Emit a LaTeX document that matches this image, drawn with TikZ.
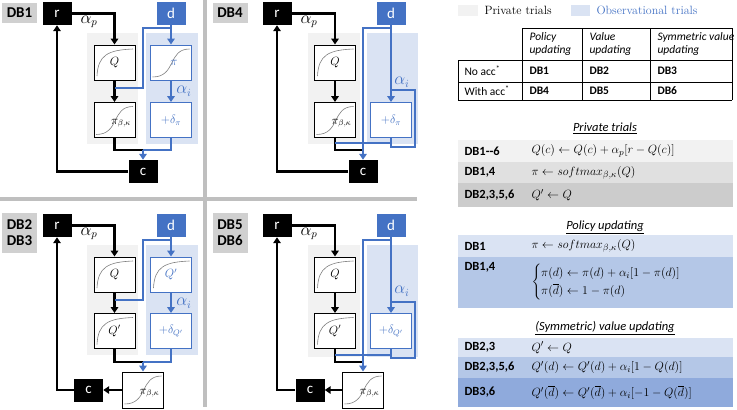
\documentclass[tikz,border=0pt]{standalone}
\usepackage{fontspec}
\usepackage{amsmath}
\newfontfamily\calibri{Carlito}
\usetikzlibrary{arrows.meta}
\definecolor{blueM}{HTML}{4472C4}
\definecolor{obsfill}{HTML}{DAE3F3}
\definecolor{privfill}{HTML}{F2F2F2}
\definecolor{labfill}{HTML}{D0D0D0}
\definecolor{divgray}{HTML}{BFBFBF}
\definecolor{rowA}{HTML}{F2F2F2}
\definecolor{rowB}{HTML}{E0E0E0}
\definecolor{rowC}{HTML}{CCCCCC}
\definecolor{rowD}{HTML}{DAE3F3}
\definecolor{rowE}{HTML}{B4C7E7}
\definecolor{rowF}{HTML}{8FAADC}

\begin{document}
\begin{tikzpicture}[x=1pt, y=-1pt,
                    >={Triangle[length=6pt,width=7.5pt]},
                    %thick,
                    lab/.style={fill=labfill, font=\calibri\bfseries\fontsize{15}{16}\selectfont,
                                minimum width=35pt, minimum height=20pt, inner sep=0pt, align=center},
                    term/.style={fill=black, text=white, font=\calibri\fontsize{15}{16}\selectfont,
                                 minimum width=29pt, minimum height=23pt, inner sep=0pt},
                    dterm/.style={term, fill=blueM},
                    curve/.style={gray, line width=0.6pt},
                    box/.style={draw, line width=0.9pt, fill=white, minimum width=41pt,
                                minimum height=35pt, inner sep=0pt, font=\fontsize{12}{13}\selectfont},
                    qbox/.style={box, path picture={\draw[curve]
                                 ([shift={(3,31)}]path picture bounding box.north west)
                                 .. controls ([shift={(4,10)}]path picture bounding box.north west)
                                 and ([shift={(14,5)}]path picture bounding box.north west)
                                 .. ([shift={(39,4)}]path picture bounding box.north west);}},
                    sbox/.style={box, path picture={\draw[curve]
                                 ([shift={(2,32)}]path picture bounding box.north west)
                                 .. controls ([shift={(26,32)}]path picture bounding box.north west)
                                 and ([shift={(17,4)}]path picture bounding box.north west)
                                 .. ([shift={(39,4)}]path picture bounding box.north west);}},
                    obs/.style={draw=blueM, text=blueM},
                    blk/.style={line width=2.2pt, black},
                    blu/.style={line width=2.2pt, blueM},
                    alpha/.style={font=\fontsize{16}{18}\selectfont},
                    divider/.style={line width=4pt, divgray},
                    cell/.style={anchor=west, align=left, font=\calibri\fontsize{11.5}{13}\selectfont},
                    rowlab/.style={anchor=west, font=\calibri\bfseries\fontsize{12.5}{14}\selectfont},
                    eq/.style={anchor=west, font=\fontsize{13}{15}\selectfont},
                    head/.style={font=\calibri\itshape\fontsize{12.5}{14}\selectfont}]

  \useasboundingbox (0,0) rectangle (737,410);

  % panel borders
  \draw[divider] (205,0) -- (205,407);
  \draw[divider] (0,198.5) -- (417,198.5);

  % DB1
  \fill[privfill] (87,33) rectangle (138,144);
  \fill[obsfill] (146,33) rectangle (198,144);
  \node[lab] (lab1) at (19.5,13) {DB1};
  \node[term] (r1) at (57,13.5) {r};
  \node[dterm] (d1) at (171,13.5) {d};
  \node[qbox] (Q1) at (114.5,62.5) {$Q$};
  \node[sbox,obs] (pi1) at (171,62.5) {\hspace*{6pt}$\pi$};
  \node[sbox] (pk1) at (114.5,120) {\hspace*{13pt}\raisebox{-4pt}[0pt][0pt]{$\pi_{\beta,\kappa}$}};
  \node[box,obs] (dp1) at (171,120) {$+\delta_\pi$};
  \node[term] (c1) at (143,171.5) {c};
  \coordinate (split1) at (171,28);
  \coordinate (bend1) at (143,88);
  \coordinate (mix1) at (114.5,88);
  \coordinate (join1) at (143,150);
  \draw[blk,->] (r1.east) -| (Q1.north);
  \draw[blk,->] (Q1.south) -- (pk1.north);
  \draw[blk] (pk1.south) |- (join1);
  \draw[blk,->] (c1.west) -| (r1.south);
  \draw[blu,->] (d1.south) -- (pi1.north);
  \draw[blu] (split1) -| (bend1) -- (mix1);
  \draw[blu,->] (pi1.south) -- (dp1.north);
  \draw[blu] (dp1.south) |- (join1);
  \draw[blu,->] (join1) -- (c1.north);
  \node[alpha] at (89,22) {$\alpha_p$};
  \node[alpha, blueM] at (184,91) {$\alpha_i$};

  % DB4
  \fill[privfill] (308,33) rectangle (360,144);
  \fill[obsfill] (367,33) rectangle (418,144);
  \node[lab] (lab4) at (230,13) {DB4};
  \node[term] (r4) at (277,13.5) {r};
  \node[dterm] (d4) at (391,13.5) {d};
  \node[qbox] (Q4) at (335,62.5) {$Q$};
  \node[sbox] (pk4) at (335,120) {\hspace*{13pt}\raisebox{-4pt}[0pt][0pt]{$\pi_{\beta,\kappa}$}};
  \node[box,obs] (dp4) at (391,120) {$+\delta_\pi$};
  \node[term] (c4) at (363,171.5) {c};
  \coordinate (split4) at (391,28);
  \coordinate (corner4) at (363,143);
  \coordinate (tap4) at (335,143);
  \coordinate (join4) at (363,150);
  \coordinate (loopa4) at (391,90);
  \coordinate (loopb4) at (415,147);
  \draw[blk,->] (r4.east) -| (Q4.north);
  \draw[blk,->] (Q4.south) -- (pk4.north);
  \draw[blk] (pk4.south) |- (join4);
  \draw[blk,->] (c4.west) -| (r4.south);
  \draw[blu,->] (d4.south) -- (dp4.north);
  \draw[blu] (split4) -| (join4);
  \draw[blu] (tap4) -- (corner4);
  \draw[blu] (dp4.south) |- (corner4);
  \draw[blu] (dp4.south) |- (loopb4) |- (loopa4);
  \draw[blu,->] (join4) -- (c4.north);
  \node[alpha] at (309,22) {$\alpha_p$};
  \node[alpha, blueM] at (402,82) {$\alpha_i$};

  % DB2 / DB3
  \fill[privfill] (87,245) rectangle (138,355);
  \fill[obsfill] (146,245) rectangle (198,355);
  \node[lab, minimum height=40pt] (lab2) at (19.5,233) {DB2\\DB3};
  \node[term] (r2) at (57,225.5) {r};
  \node[dterm] (d2) at (171,225.5) {d};
  \node[qbox] (Q2) at (114.5,274.5) {$Q$};
  \node[qbox,obs] (Qb2) at (171,274.5) {$Q'$};
  \node[qbox] (Qp2) at (114.5,331) {$Q'$};
  \node[box,obs] (dq2) at (171,331) {$+\delta_{Q'}$};
  \node[sbox, minimum height=36pt] (pk2) at (143,390) {\hspace*{13pt}\raisebox{-4pt}[0pt][0pt]{$\pi_{\beta,\kappa}$}};
  \node[term] (c2) at (88.5,390) {c};
  \coordinate (split2) at (171,240);
  \coordinate (bend2) at (143,300);
  \coordinate (mix2) at (114.5,300);
  \coordinate (join2) at (143,362);
  \draw[blk,->] (r2.east) -| (Q2.north);
  \draw[blk,->] (Q2.south) -- (Qp2.north);
  \draw[blk] (Qp2.south) |- (join2);
  \draw[blk,->] (pk2.west) -- (c2.east);
  \draw[blk,->] (c2.west) -| (r2.south);
  \draw[blu,->] (d2.south) -- (Qb2.north);
  \draw[blu] (split2) -| (bend2) -- (mix2);
  \draw[blu,->] (Qb2.south) -- (dq2.north);
  \draw[blu] (dq2.south) |- (join2);
  \draw[blu,->] (join2) -- (pk2.north);
  \node[alpha] at (89,234) {$\alpha_p$};
  \node[alpha, blueM] at (184,303) {$\alpha_i$};

  % DB5 / DB6
  \fill[privfill] (308,245) rectangle (360,357);
  \fill[obsfill] (367,245) rectangle (418,357);
  \node[lab, minimum height=40pt] (lab5) at (230,233) {DB5\\DB6};
  \node[term] (r5) at (277,225.5) {r};
  \node[dterm] (d5) at (391,225.5) {d};
  \node[qbox] (Q5) at (335,274.5) {$Q$};
  \node[qbox] (Qp5) at (335,331) {$Q'$};
  \node[box,obs] (dq5) at (391,331) {$+\delta_{Q'}$};
  \node[sbox, minimum height=36pt] (pk5) at (363,390) {\hspace*{13pt}\raisebox{-4pt}[0pt][0pt]{$\pi_{\beta,\kappa}$}};
  \node[term] (c5) at (310,390) {c};
  \coordinate (split5) at (391,240);
  \coordinate (corner5) at (363,355);
  \coordinate (tap5) at (335,355);
  \coordinate (join5) at (363,362);
  \coordinate (loopa5) at (391,302);
  \coordinate (loopb5) at (415,358);
  \draw[blk,->] (r5.east) -| (Q5.north);
  \draw[blk,->] (Q5.south) -- (Qp5.north);
  \draw[blk] (Qp5.south) |- (join5);
  \draw[blk,->] (pk5.west) -- (c5.east);
  \draw[blk,->] (c5.west) -| (r5.south);
  \draw[blu,->] (d5.south) -- (dq5.north);
  \draw[blu] (split5) -| (join5);
  \draw[blu] (tap5) -- (corner5);
  \draw[blu] (dq5.south) |- (corner5);
  \draw[blu] (dq5.south) |- (loopb5) |- (loopa5);
  \draw[blu,->] (join5) -- (pk5.north);
  \node[alpha] at (309,234) {$\alpha_p$};
  \node[alpha, blueM] at (402,291) {$\alpha_i$};

  % legend
  \fill[privfill] (458,5) rectangle (478,16);
  \node[anchor=west, font=\fontsize{12}{14}\selectfont] (legp) at (481,10) {Private trials};
  \fill[obsfill] (571,5) rectangle (590,16);
  \node[anchor=west, blueM, font=\fontsize{12}{14}\selectfont] (lego) at (593,10) {Observational trials};

  % table
  \draw[line width=0.6pt] (522,28) -- (732,28);
  \foreach \x in {522,582,650,732} \draw[line width=0.6pt] (\x,28) -- (\x,100);
  \draw[line width=0.6pt] (458,60) -- (458,100);
  \foreach \y in {60,82,100} \draw[line width=0.6pt] (458,\y) -- (732,\y);
  \node[cell, font=\calibri\itshape\fontsize{11.5}{13}\selectfont] at (526,44) {Policy\\updating};
  \node[cell, font=\calibri\itshape\fontsize{11.5}{13}\selectfont] at (586,44) {Value\\updating};
  \node[cell, font=\calibri\itshape\fontsize{11.5}{13}\selectfont] at (654,44) {Symmetric value\\updating};
  \node[cell] at (461,71) {No acc\textsuperscript{*}};
  \node[cell] at (461,91) {With acc\textsuperscript{*}};
  \node[cell, font=\calibri\bfseries\fontsize{11.5}{13}\selectfont] at (526,71) {DB1};
  \node[cell, font=\calibri\bfseries\fontsize{11.5}{13}\selectfont] at (586,71) {DB2};
  \node[cell, font=\calibri\bfseries\fontsize{11.5}{13}\selectfont] at (654,71) {DB3};
  \node[cell, font=\calibri\bfseries\fontsize{11.5}{13}\selectfont] at (526,91) {DB4};
  \node[cell, font=\calibri\bfseries\fontsize{11.5}{13}\selectfont] at (586,91) {DB5};
  \node[cell, font=\calibri\bfseries\fontsize{11.5}{13}\selectfont] at (654,91) {DB6};

  % private trials
  \node[head] at (605,128) {\underline{Private trials}};
  \fill[rowA] (458,140) rectangle (733,162);
  \fill[rowB] (458,162) rectangle (733,183);
  \fill[rowC] (458,183) rectangle (733,207);
  \node[rowlab] at (461,151) {DB1-{}-6};
  \node[eq] at (528,151) {$Q(c) \leftarrow Q(c) + \alpha_p[r - Q(c)]$};
  \node[rowlab] at (461,172.5) {DB1,4};
  \node[eq] at (528,172.5) {$\pi \leftarrow softmax_{\beta,\kappa}(Q)$};
  \node[rowlab] at (461,195) {DB2,3,5,6};
  \node[eq] at (528,195) {$Q' \leftarrow Q$};

  % policy updating
  \node[head] at (605,227) {\underline{Policy updating}};
  \fill[rowD] (458,235) rectangle (733,257);
  \fill[rowE] (458,257) rectangle (733,308);
  \node[rowlab] at (461,246) {DB1};
  \node[eq] at (528,246) {$\pi \leftarrow softmax_{\beta,\kappa}(Q)$};
  \node[rowlab] at (461,267) {DB1,4};
  \node[eq] at (528,282.5) {$\left\{\begin{array}{@{}l@{}}
      \pi(d) \leftarrow \pi(d) + \alpha_i[1 - \pi(d)] \\[3pt]
      \pi(\overline{d}) \leftarrow 1 - \pi(d)
    \end{array}\right.$};

  % value updating
  \node[head] at (605,328) {\underline{(Symmetric) value updating}};
  \fill[rowD] (458,338) rectangle (733,357);
  \fill[rowE] (458,357) rectangle (733,378);
  \fill[rowF] (458,378) rectangle (733,407);
  \node[rowlab] at (461,347.5) {DB2,3};
  \node[eq] at (528,347.5) {$Q' \leftarrow Q$};
  \node[rowlab] at (461,367.5) {DB2,3,5,6};
  \node[eq] at (528,367.5) {$Q'(d) \leftarrow Q'(d) + \alpha_i[1 - Q(d)]$};
  \node[rowlab] at (461,392.5) {DB3,6};
  \node[eq] at (528,392.5) {$Q'(\overline{d}) \leftarrow Q'(\overline{d}) + \alpha_i[-1 - Q(\overline{d})]$};
\end{tikzpicture}
\end{document}
